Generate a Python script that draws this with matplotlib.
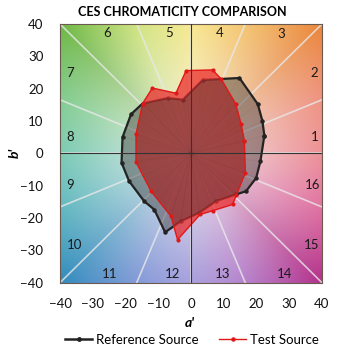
import numpy as np
import matplotlib
matplotlib.use("Agg")
import matplotlib.pyplot as plt

plt.rcParams['font.family'] = ['Lato', 'DejaVu Sans']

# ---- data (a', b') ----
ref_a = [22.4, 21.8, 20.4, 14.8, 3.6, -2.5, -7.1, -14.8, -18.3, -20.9, -21.2,
         -18.9, -14.3, -11.2, -7.9, -3.1, 2.5, 7.6, 13.8, 16.8, 19.9, 21.2]
ref_b = [5.5, 10.0, 15.2, 23.3, 22.7, 16.6, 17.1, 15.4, 12.1, 5.0, -2.9,
         -8.6, -14.8, -17.4, -24.4, -21.0, -18.4, -14.8, -12.7, -11.7, -7.6, -2.4]

test_a = [16.3, 15.3, 13.6, 9.2, 6.6, -1.5, -4.6, -11.8, -14.8, -16.8, -16.8,
          -12.2, -6.1, -4.1, 2.8, 6.8, 12.7, 13.8, 16.6]
test_b = [3.8, 9.1, 15.4, 23.0, 25.8, 25.6, 18.6, 20.2, 15.4, 5.9, -2.7,
          -11.7, -19.5, -26.7, -18.9, -17.7, -15.8, -13.0, -6.0]

bin_labels = [str(i) for i in range(1, 17)]
ticks = [-40, -30, -20, -10, 0, 10, 20, 30, 40]
series_names = ["Reference Source", "Test Source"]

# label placement (layout)
label_pos = [(37.7, 5.1), (37.7, 24.7), (27.5, 37.0), (8.7, 37.3), (-6.8, 37.3),
             (-25.7, 37.3), (-37.0, 24.7), (-37.0, 5.1), (-37.0, -9.8), (-35.7, -28.3),
             (-24.7, -37.4), (-5.6, -37.4), (9.7, -37.4), (28.5, -37.4), (36.7, -28.3),
             (37.0, -9.8)]

fig = plt.figure(figsize=(3.5, 3.5), dpi=100)
ax = fig.add_axes([60/350, 1-282.7/350, 262/350, 258.7/350])

# ---- background hue wheel ----
anc_ang = np.arange(0, 360 + 22.5, 22.5)
anc_col = np.array([
    (235, 110, 120), (238, 122, 100), (235, 135, 60), (245, 185, 80),
    (250, 230, 110), (200, 225, 100), (110, 185, 70), (100, 195, 120),
    (80, 190, 160), (60, 170, 180), (50, 140, 190), (100, 130, 210),
    (140, 130, 215), (165, 100, 195), (180, 50, 140), (220, 80, 140),
    (235, 110, 120)], dtype=float) / 255.0
n = 400
gx = np.linspace(-40, 40, n)
GX, GY = np.meshgrid(gx, gx)
ang = np.degrees(np.arctan2(GY, GX)) % 360
rad = np.hypot(GX, GY)
s = np.clip(rad / 56.0, 0, 1) ** 0.95
center = np.array([242, 240, 238]) / 255.0
img = np.zeros((n, n, 3))
for c in range(3):
    hue = np.interp(ang, anc_ang, anc_col[:, c])
    img[:, :, c] = center[c] * (1 - s) + hue * s
ax.imshow(img, extent=[-40, 40, -40, 40], origin='lower', zorder=0, aspect='auto')

# spokes at bin boundaries
for k in range(16):
    th = np.radians(k * 22.5)
    ax.plot([0, 70 * np.cos(th)], [0, 70 * np.sin(th)], color='#e8e8e8',
            lw=1.2, alpha=0.8, zorder=0.5, solid_capstyle='butt')

# bin labels
for lab, (x, y) in zip(bin_labels, label_pos):
    ax.text(x, y, lab, ha='center', va='center', fontsize=9.5, color='#1a1a1a', zorder=6)

# ---- polygons ----
ra = np.array(ref_a + ref_a[:1]); rb = np.array(ref_b + ref_b[:1])
ta = np.array(test_a + test_a[:1]); tb = np.array(test_b + test_b[:1])

ax.plot(ra, rb, color='#222222', lw=1.6, marker='o', ms=2.2, zorder=1)
ax.fill(ta, tb, color=(235/255, 45/255, 45/255), alpha=0.75, lw=0, zorder=2)
ax.fill(ra, rb, color=(45/255, 40/255, 40/255), alpha=0.40, lw=0, zorder=3)
for x, y in zip(ref_a + test_a, ref_b + test_b):
    ax.plot([0, x], [0, y], color='#5a2020', lw=0.5, alpha=0.07, zorder=3.2)
ax.plot(ta, tb, color='#e01818', lw=1.0, marker='o', ms=2.0, zorder=4)

ax.axhline(0, color='#333333', lw=0.8, zorder=5)
ax.axvline(0, color='#333333', lw=0.8, zorder=5)

ax.set_xlim(-40, 40)
ax.set_ylim(-40, 40)
ax.set_xticks(ticks)
ax.set_yticks(ticks)
ax.tick_params(length=0, labelsize=9.5, colors='#111111')
ax.tick_params(axis='y', pad=12)
ax.tick_params(axis='x', pad=11)
for sp in ax.spines.values():
    sp.set_color('#6b5a50')
    sp.set_linewidth(0.8)

fig.text(15/350, 1-153/350, "b'", rotation=90, ha='center', va='center',
         fontsize=10, fontweight='bold', fontstyle='italic')
fig.text(190/350, 1-323/350, "a'", ha='center', va='center',
         fontsize=10, fontweight='bold', fontstyle='italic')
fig.text(182/350, 1-12/350, "CES CHROMATICITY COMPARISON", ha='center', va='center',
         fontsize=9, fontweight='bold')

h1, = ax.plot([], [], color='#222222', lw=1.8, marker='o', ms=2.5)
h2, = ax.plot([], [], color='#e01818', lw=1.0, marker='o', ms=2.2)
fig.legend([h1, h2], series_names, loc='center', bbox_to_anchor=(192/350, 1-340/350),
           ncol=2, frameon=False, handlelength=2.0, handletextpad=0.3,
           columnspacing=1.6, fontsize=9.5, numpoints=1, borderpad=0)

fig.savefig("out.png", dpi=100)
